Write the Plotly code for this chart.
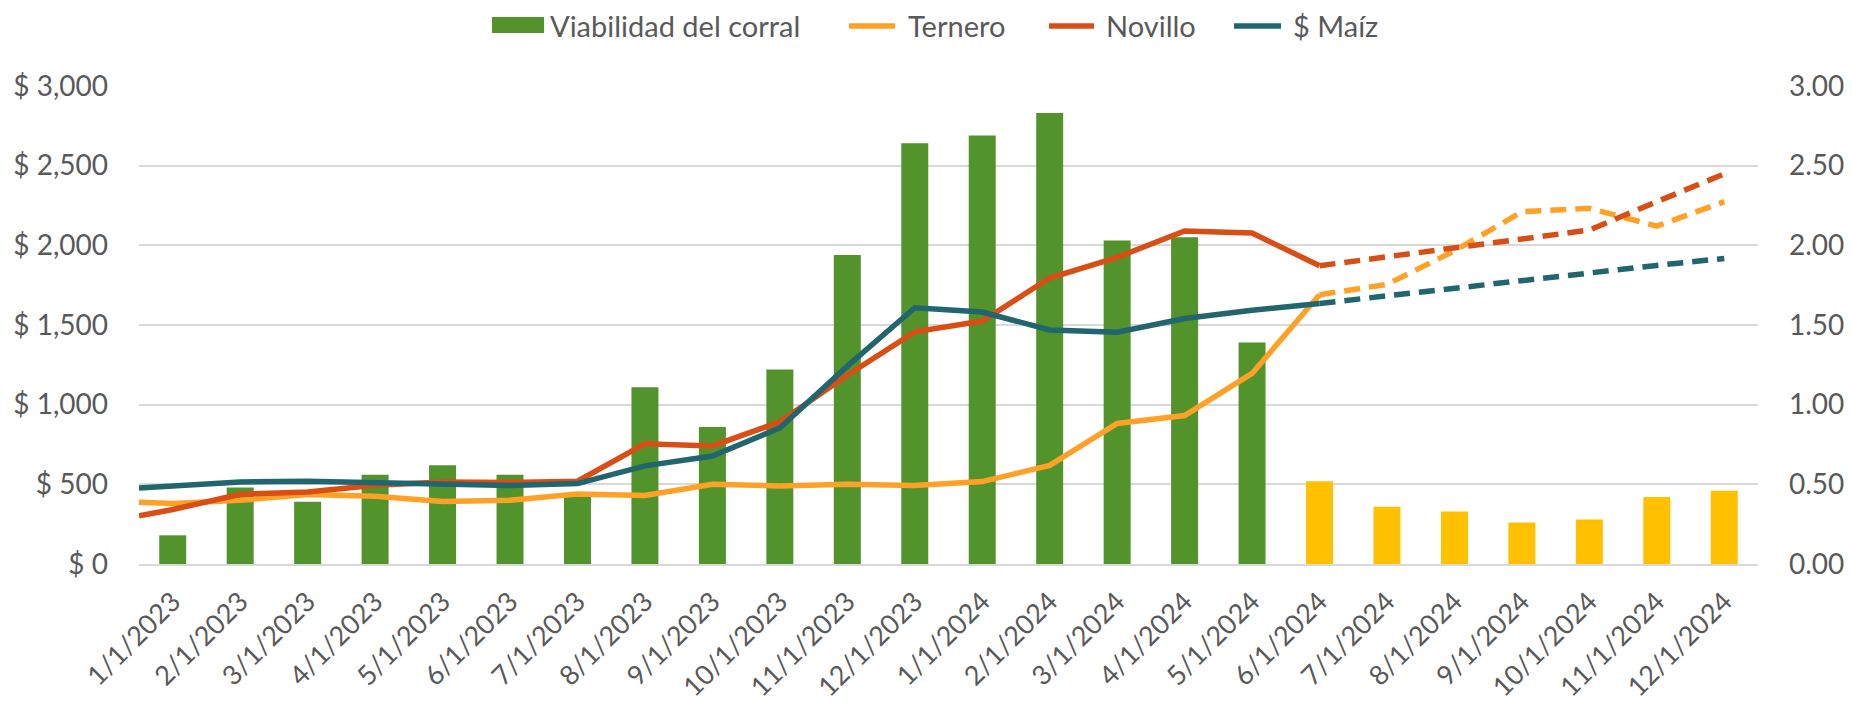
import plotly.graph_objects as go

# ---------------- data ----------------
fechas = ["1/1/2023", "2/1/2023", "3/1/2023", "4/1/2023", "5/1/2023", "6/1/2023",
          "7/1/2023", "8/1/2023", "9/1/2023", "10/1/2023", "11/1/2023", "12/1/2023",
          "1/1/2024", "2/1/2024", "3/1/2024", "4/1/2024", "5/1/2024", "6/1/2024",
          "7/1/2024", "8/1/2024", "9/1/2024", "10/1/2024", "11/1/2024", "12/1/2024"]

viabilidad = [0.18, 0.48, 0.39, 0.56, 0.62, 0.56, 0.44, 1.11, 0.86, 1.22, 1.94, 2.64,
              2.69, 2.83, 2.03, 2.05, 1.39, 0.52, 0.36, 0.33, 0.26, 0.28, 0.42, 0.46]

ternero = [379, 400, 436, 425, 392, 400, 440, 430, 501, 490, 501, 492,
           517, 619, 882, 932, 1196, 1690, 1755, 1965, 2211, 2232, 2121, 2274]
novillo = [342, 438, 452, 494, 515, 511, 520, 754, 741, 892, 1185, 1457,
           1525, 1795, 1925, 2090, 2077, 1872, 1926, 1985, 2040, 2096, 2274, 2448]
maiz = [490, 515, 519, 510, 505, 492, 505, 616, 678, 854, 1242, 1608,
        1581, 1469, 1455, 1541, 1592, 1635, 1684, 1727, 1782, 1828, 1874, 1918]

# value of each line where it enters the plot at the left edge (previous month)
inicio = {"ternero": 388, "novillo": 302, "maiz": 477}

n_real = 18          # first 18 months are actual values, the rest projected
n_verde = 17         # bars drawn in green (the rest in yellow)
left_ticks = [0, 500, 1000, 1500, 2000, 2500, 3000]
left_labels = ["$ 0", "$ 500", "$ 1,000", "$ 1,500", "$ 2,000", "$ 2,500", "$ 3,000"]
right_ticks = [0, 0.5, 1.0, 1.5, 2.0, 2.5, 3.0]
right_labels = ["0.00", "0.50", "1.00", "1.50", "2.00", "2.50", "3.00"]
nombres = ["Viabilidad del corral", "Ternero", "Novillo", "$ Maíz"]

# ---------------- styles ----------------
VERDE = "#52932C"
AMARILLO = "#FFC000"
NARANJA = "#FFA126"
ROJO = "#D94E14"
TEAL = "#21666F"
TXT = "#595959"
GRID = "#D9D9D9"
FONT = "Lato"
LW = 5.5
W, H = 1852, 704
ML, MR, MT, MB = 139, 94, 86, 140
PW, PH = W - ML - MR, H - MT - MB

idx = list(range(len(fechas)))
bar_colors = [VERDE] * n_verde + [AMARILLO] * (len(fechas) - n_verde)

fig = go.Figure()
fig.add_trace(go.Bar(x=idx, y=viabilidad, name=nombres[0],
                     marker=dict(color=bar_colors, line=dict(width=0)),
                     width=0.4, yaxis="y", hoverinfo="skip"))

series = [(nombres[1], ternero, inicio["ternero"], NARANJA),
          (nombres[2], novillo, inicio["novillo"], ROJO),
          (nombres[3], maiz, inicio["maiz"], TEAL)]
for name, vals, start, col in series:
    xs = [idx[0] - 0.5] + idx[:n_real]
    ys = [start] + vals[:n_real]
    fig.add_trace(go.Scatter(x=xs, y=ys, mode="lines", name=name, yaxis="y2",
                             line=dict(color=col, width=LW), legendgroup=name))
    fig.add_trace(go.Scatter(x=idx[n_real - 1:], y=vals[n_real - 1:], mode="lines",
                             name=name, yaxis="y2", showlegend=False, legendgroup=name,
                             line=dict(color=col, width=LW, dash="16px,9px")))

# ---------------- custom legend (layout only) ----------------
def fx(px):
    return (px - ML) / PW

def fy(py):
    return (H - MB - py) / PH

shapes, annotations = [], []
LEG_Y = 25
# (swatch start, swatch end, text start) in pixels
leg_pos = [(492, 544, 548), (846, 898, 906), (1046, 1097, 1104), (1231, 1284, 1291)]
leg_cols = [VERDE, NARANJA, ROJO, TEAL]
for i, (x0, x1, xt) in enumerate(leg_pos):
    if i == 0:
        shapes.append(dict(type="rect", xref="paper", yref="paper",
                           x0=fx(x0), x1=fx(x1), y0=fy(LEG_Y + 8), y1=fy(LEG_Y - 8),
                           fillcolor=leg_cols[i], line=dict(width=0)))
    else:
        shapes.append(dict(type="line", xref="paper", yref="paper",
                           x0=fx(x0 + 3), x1=fx(x1 - 3), y0=fy(LEG_Y + 1), y1=fy(LEG_Y + 1),
                           line=dict(color=leg_cols[i], width=LW)))
    annotations.append(dict(text=nombres[i], xref="paper", yref="paper",
                            x=fx(xt), y=fy(LEG_Y), xanchor="left", yanchor="middle",
                            showarrow=False, font=dict(size=29, color=TXT, family=FONT)))

fig.update_layout(
    width=W, height=H,
    margin=dict(l=ML, r=MR, t=MT, b=MB),
    paper_bgcolor="white", plot_bgcolor="white",
    font=dict(family=FONT, size=28, color=TXT),
    barmode="overlay",
    showlegend=False,
    shapes=shapes, annotations=annotations,
    xaxis=dict(range=[-0.5, len(fechas) - 0.5], tickmode="array", tickvals=idx,
               ticktext=fechas, tickangle=-45, showgrid=False, zeroline=False,
               showline=True, linecolor=GRID, linewidth=2, automargin=False,
               ticks="", ticklabelstandoff=9,
               tickfont=dict(size=27, color=TXT)),
    yaxis=dict(side="right", range=[0, 3], tickmode="array", tickvals=right_ticks,
               ticktext=right_labels, showgrid=True, gridcolor=GRID, gridwidth=1.7,
               zeroline=False, ticks="", ticklabelstandoff=30, automargin=False,
               tickfont=dict(size=28, color=TXT)),
    yaxis2=dict(side="left", overlaying="y", range=[0, 3000], tickmode="array",
                tickvals=left_ticks, ticktext=left_labels,
                showgrid=False, zeroline=False, ticks="", ticklabelstandoff=30,
                automargin=False, tickfont=dict(size=28, color=TXT)),
)

fig.write_html("out.html",
               config={"displayModeBar": False},
               post_script="document.body.style.margin='0px';"
                           "document.body.style.overflow='hidden';")
